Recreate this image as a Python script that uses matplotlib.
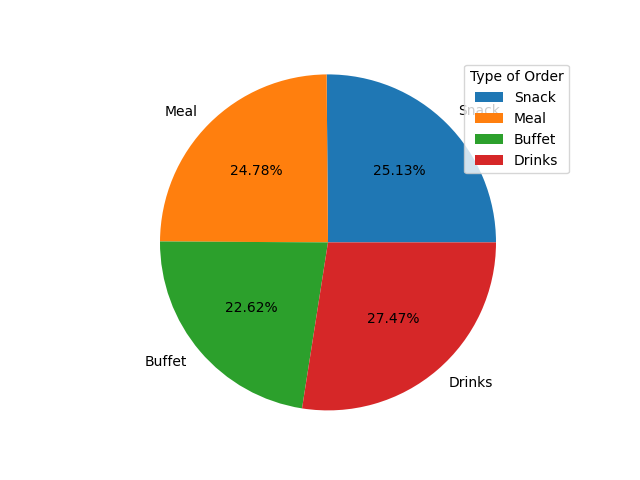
import matplotlib
matplotlib.use("Agg")
import matplotlib.pyplot as plt

# Share of orders by type (percent)
order_types = ["Snack", "Meal", "Buffet", "Drinks"]
order_share = [25.13, 24.78, 22.62, 27.47]

fig, ax = plt.subplots(figsize=(6.4, 4.8), dpi=100)
ax.pie(order_share, labels=order_types, autopct="%1.2f%%")

# keep full-size axes box and let the data limits adapt
ax.set_aspect("equal", adjustable="datalim")
ax.set_xlim(-1.1, 1.1)
ax.set_ylim(-1.1, 1.1)

ax.legend(title="Type of Order", loc="upper right")

fig.savefig("out.png")
